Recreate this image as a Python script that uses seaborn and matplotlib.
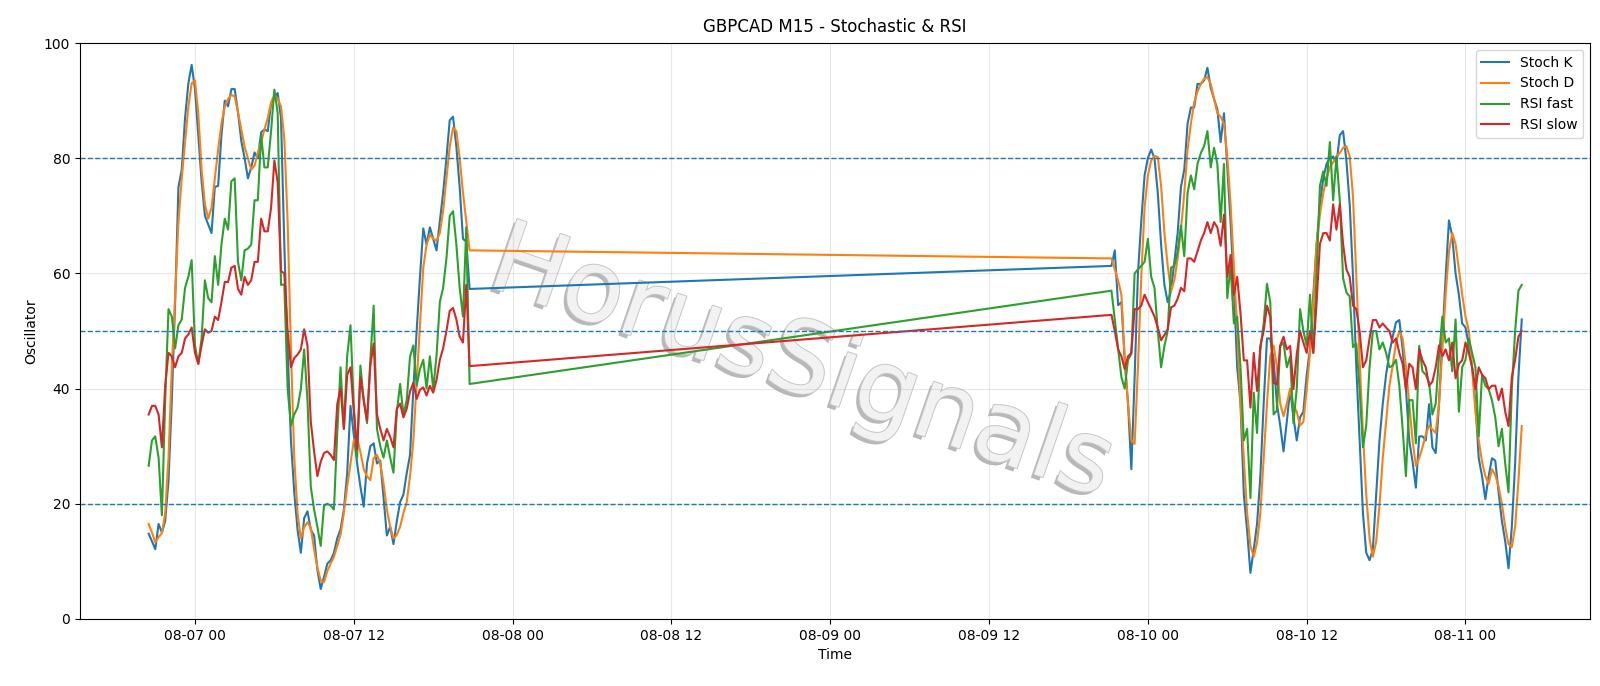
import matplotlib
matplotlib.use("Agg")
import matplotlib.pyplot as plt
import matplotlib.dates as mdates
import matplotlib.patheffects as pe
import numpy as np
import pandas as pd
import seaborn as sns

# ---------------- data ----------------
seg1_start = "2020-08-06 20:30"
seg2_start = "2020-08-09 21:15"

stoch_k_1 = [14.8, 13.5, 12.1, 16.5, 15.0, 17.0, 24.0, 38.0, 55.0, 75.0,
             78.0, 87.0, 93.0, 96.2, 92.0, 84.0, 76.0, 70.0, 68.5, 67.0,
             75.0, 75.2, 84.0, 90.0, 89.0, 92.0, 92.0, 88.0, 83.0, 80.0,
             76.5, 78.4, 81.0, 80.0, 84.5, 85.0, 84.7, 89.5, 90.6, 91.3,
             87.0, 65.0, 47.0, 31.0, 22.0, 15.5, 11.5, 17.5, 18.7, 15.5,
             14.5, 8.5, 5.2, 7.3, 9.6, 10.2, 11.5, 14.0, 15.6, 19.0,
             25.3, 37.0, 32.0, 27.0, 23.0, 19.5, 27.0, 30.0, 30.5, 27.0,
             27.5, 21.0, 14.5, 16.0, 13.0, 17.0, 20.3, 21.6, 25.3, 28.5,
             40.0, 50.0, 59.4, 67.8, 65.0, 68.0, 66.0, 64.0, 69.0, 74.0,
             80.0, 86.6, 87.2, 82.0, 75.0, 66.0, 65.5, 57.3]
stoch_d_1 = [16.5, 15.0, 13.3, 14.2, 14.9, 18.4, 28.0, 43.7, 56.0, 69.0,
             76.5, 82.8, 89.0, 93.0, 93.5, 87.8, 78.0, 72.0, 69.5, 71.4,
             76.5, 81.5, 86.0, 89.0, 90.3, 91.0, 90.7, 88.0, 85.0, 82.0,
             80.0, 78.0, 78.7, 81.0, 82.8, 85.0, 87.0, 89.7, 91.0, 90.3,
             89.0, 83.4, 69.0, 47.0, 28.0, 18.4, 14.0, 15.9, 16.8, 15.9,
             12.1, 8.9, 6.7, 6.4, 8.3, 9.6, 10.8, 12.7, 14.6, 18.4,
             23.0, 27.0, 31.0, 31.5, 29.0, 26.0, 24.8, 24.1, 27.9, 28.5,
             27.0, 23.5, 19.0, 16.0, 14.0, 14.6, 16.0, 18.4, 20.3, 24.8,
             31.0, 41.0, 51.0, 61.0, 65.0, 66.7, 66.0, 65.7, 67.0, 70.8,
             76.5, 82.0, 85.3, 84.7, 80.0, 74.0, 69.0, 64.0]
rsi_fast_1 = [26.6, 31.0, 31.7, 28.0, 18.0, 38.0, 53.8, 52.5, 47.0, 51.0,
              52.0, 57.5, 59.4, 62.3, 47.5, 44.3, 48.7, 58.8, 55.7, 55.0,
              63.0, 58.0, 65.0, 69.5, 67.6, 76.0, 76.5, 62.0, 58.8, 64.0,
              64.3, 65.0, 72.7, 72.7, 84.0, 78.4, 78.4, 84.7, 91.9, 87.8,
              58.0, 58.1, 40.0, 33.6, 35.5, 36.7, 39.9, 46.8, 38.0, 23.0,
              19.0, 16.0, 12.7, 19.7, 20.0, 19.7, 19.0, 32.3, 43.7, 33.0,
              45.6, 51.0, 37.0, 28.0, 44.0, 38.0, 34.0, 45.0, 54.4, 33.0,
              30.0, 28.0, 31.0, 28.0, 25.4, 36.0, 40.8, 35.5, 38.0, 45.6,
              47.5, 40.5, 43.4, 45.0, 40.0, 45.6, 40.0, 45.6, 55.0, 57.5,
              62.6, 70.0, 70.8, 65.0, 57.5, 52.5, 68.0, 40.8]
rsi_slow_1 = [35.5, 37.0, 37.0, 35.5, 29.8, 40.5, 46.2, 45.6, 43.7, 45.6,
              46.2, 48.7, 49.4, 50.6, 46.2, 44.3, 47.5, 50.3, 49.7, 50.0,
              52.5, 51.9, 55.0, 58.5, 58.5, 61.0, 61.3, 57.3, 56.3, 59.4,
              58.0, 58.8, 62.0, 62.0, 69.5, 67.3, 67.3, 71.4, 79.6, 75.8,
              60.4, 60.0, 50.0, 43.7, 45.3, 45.9, 46.8, 50.3, 47.5, 34.3,
              29.1, 24.8, 27.3, 28.8, 29.1, 28.5, 27.6, 37.3, 40.0, 33.0,
              42.4, 43.7, 36.0, 29.5, 42.0, 38.0, 34.5, 44.0, 47.8, 35.5,
              33.0, 31.0, 33.0, 31.6, 29.8, 36.5, 37.4, 35.0, 36.5, 39.5,
              41.0, 38.2, 39.8, 40.2, 38.8, 40.5, 39.3, 41.5, 45.0, 47.0,
              50.0, 53.5, 54.0, 52.0, 49.0, 48.0, 58.0, 43.9]

stoch_k_2 = [61.3, 64.0, 54.5, 55.0, 45.0, 37.4, 26.0, 42.0, 60.0, 69.0,
             77.0, 80.0, 81.5, 80.0, 74.0, 65.0, 58.0, 55.0, 57.0, 62.0,
             67.0, 75.0, 78.0, 86.0, 88.8, 88.8, 92.9, 92.9, 93.5, 95.7,
             92.2, 90.3, 88.5, 82.8, 87.8, 78.4, 68.9, 57.5, 43.7, 37.4,
             21.6, 15.3, 8.0, 12.1, 16.5, 24.8, 37.4, 48.7, 48.7, 45.0,
             37.4, 33.6, 29.1, 34.3, 39.9, 35.0, 31.0, 35.0, 36.0, 42.4,
             46.8, 56.3, 65.1, 72.0, 76.5, 79.0, 80.0, 80.3, 79.0, 84.0,
             84.7, 79.6, 72.0, 59.4, 43.7, 31.0, 18.4, 11.5, 10.2, 12.1,
             21.6, 31.0, 37.4, 42.4, 46.2, 49.0, 51.5, 51.9, 46.8, 39.9,
             31.0, 27.3, 22.8, 31.7, 31.7, 31.0, 37.3, 29.8, 28.8, 37.4,
             48.7, 59.4, 69.2, 66.4, 60.0, 56.3, 51.3, 50.6, 47.5, 43.7,
             37.4, 27.9, 24.8, 20.8, 24.8, 27.9, 27.5, 22.0, 17.0, 13.5,
             8.8, 16.0, 27.0, 42.0, 52.0]
stoch_d_2 = [62.6, 60.7, 58.8, 56.3, 45.0, 37.4, 31.0, 30.4, 43.7, 59.4,
             71.4, 77.0, 79.6, 80.4, 80.2, 75.2, 67.0, 61.3, 56.9, 58.8,
             62.6, 67.6, 73.9, 81.5, 86.0, 89.7, 91.6, 92.9, 93.8, 94.1,
             92.9, 90.3, 87.8, 87.2, 86.0, 80.3, 72.0, 61.3, 50.0, 37.4,
             28.0, 18.4, 12.7, 10.8, 13.3, 18.4, 28.0, 37.4, 45.6, 47.5,
             43.7, 37.4, 35.2, 37.4, 40.0, 37.0, 36.0, 33.6, 34.2, 39.9,
             46.2, 55.0, 65.1, 70.2, 73.9, 76.5, 78.4, 79.3, 80.3, 80.9,
             81.8, 82.1, 80.3, 73.3, 59.4, 45.0, 32.3, 21.6, 14.0, 10.8,
             13.4, 19.7, 28.0, 34.2, 40.5, 44.0, 48.0, 50.0, 48.7, 43.7,
             37.4, 31.0, 26.6, 27.9, 29.8, 32.0, 33.6, 32.9, 32.3, 37.4,
             46.8, 56.3, 63.8, 67.0, 65.1, 60.7, 56.3, 52.5, 50.0, 43.7,
             36.0, 31.0, 27.3, 24.8, 23.5, 26.0, 25.0, 23.0, 20.0, 16.0,
             13.0, 12.5, 16.0, 24.0, 33.5]
rsi_fast_2 = [57.0, 52.0, 47.0, 42.0, 40.0, 45.0, 46.0, 60.0, 60.7, 61.3,
              62.0, 66.0, 59.4, 57.5, 50.0, 43.7, 47.4, 50.0, 61.0, 61.3,
              63.8, 68.3, 63.0, 74.0, 77.0, 74.6, 79.0, 80.9, 82.1, 84.7,
              78.4, 81.8, 79.0, 68.9, 79.0, 55.7, 61.3, 51.3, 52.5, 43.7,
              31.0, 33.0, 21.0, 39.3, 32.3, 46.8, 51.3, 58.2, 55.0, 35.5,
              36.2, 47.4, 48.0, 43.7, 45.6, 34.0, 40.0, 53.8, 50.0, 47.5,
              56.3, 46.2, 60.0, 75.2, 77.7, 75.2, 82.8, 72.7, 80.3, 72.7,
              59.2, 56.7, 56.0, 47.2, 47.8, 39.9, 29.8, 33.6, 43.7, 50.0,
              50.0, 46.8, 48.0, 46.2, 43.7, 44.0, 45.0, 40.5, 33.0, 24.8,
              38.0, 38.0, 30.5, 47.4, 43.0, 42.4, 41.0, 35.5, 37.4, 45.6,
              52.5, 48.0, 48.7, 43.0, 52.0, 36.0, 43.7, 45.0, 48.7, 46.2,
              43.7, 31.7, 42.4, 40.5, 39.9, 38.0, 35.0, 30.0, 33.0, 27.0,
              22.0, 40.0, 50.0, 57.0, 58.0]
rsi_slow_2 = [52.8, 50.0, 46.8, 45.6, 43.4, 45.6, 46.2, 53.8, 53.8, 54.4,
              56.3, 55.0, 53.8, 52.5, 50.6, 48.4, 49.3, 50.3, 54.1, 54.4,
              55.6, 57.5, 56.9, 62.6, 62.6, 62.0, 63.8, 65.7, 67.0, 68.9,
              67.0, 68.9, 68.0, 64.8, 70.2, 59.4, 63.2, 56.3, 59.4, 53.1,
              44.9, 44.9, 36.7, 46.2, 39.6, 47.5, 50.0, 54.4, 52.5, 41.0,
              40.7, 47.5, 49.0, 46.8, 47.4, 39.9, 46.0, 50.0, 48.0, 46.2,
              50.0, 46.2, 55.0, 65.1, 67.0, 67.0, 65.7, 72.0, 67.6, 72.0,
              65.1, 60.7, 59.4, 54.4, 53.8, 50.0, 43.7, 44.9, 48.7, 51.9,
              51.9, 50.6, 51.3, 50.6, 50.0, 48.0, 48.7, 46.2, 44.3, 39.9,
              44.3, 43.7, 39.9, 46.8, 44.9, 43.7, 40.5, 41.2, 43.7, 47.5,
              45.6, 46.8, 44.9, 48.0, 41.8, 44.3, 44.9, 48.0, 46.2, 43.7,
              39.9, 43.7, 42.4, 41.8, 39.9, 40.5, 40.5, 38.0, 40.0, 36.0,
              33.5, 42.0, 45.0, 49.0, 50.0]

series_names = ["Stoch K", "Stoch D", "RSI fast", "RSI slow"]
series_colors = ["#1f77b4", "#ff7f0e", "#2ca02c", "#d62728"]
levels = [20, 50, 80]

# ---------------- build frame ----------------
t1 = pd.date_range(seg1_start, periods=len(stoch_k_1), freq="15min")
t2 = pd.date_range(seg2_start, periods=len(stoch_k_2), freq="15min")
times = t1.append(t2)
df = pd.DataFrame({
    "Time": times,
    "Stoch K": stoch_k_1 + stoch_k_2,
    "Stoch D": stoch_d_1 + stoch_d_2,
    "RSI fast": rsi_fast_1 + rsi_fast_2,
    "RSI slow": rsi_slow_1 + rsi_slow_2,
})

# ---------------- plot ----------------
fig = plt.figure(figsize=(16, 6.86), dpi=100)
ax = fig.add_axes([0.05, 0.0977, 0.944, 0.8396])

for name, col in zip(series_names, series_colors):
    sns.lineplot(data=df, x="Time", y=name, ax=ax, color=col, label=name,
                 linewidth=1.5, estimator=None)

for lv in levels:
    ax.axhline(lv, color="#1f77b4", linestyle="--", linewidth=1)

ax.set_ylim(0, 100)
ax.set_yticks([0, 20, 40, 60, 80, 100])
ax.xaxis.set_major_locator(mdates.HourLocator(byhour=[0, 12]))
ax.xaxis.set_major_formatter(mdates.DateFormatter("%m-%d %H"))
ax.grid(True, alpha=0.3)
ax.set_title("GBPCAD M15 - Stochastic & RSI", fontsize=12, pad=8)
ax.set_xlabel("Time")
ax.set_ylabel("Oscillator")
ax.legend(loc="upper right")

ax.text(0.501, 0.468, "HorusSignals", transform=fig.transFigure,
        rotation=-19, fontsize=72, color="#f2f2f2", ha="center", va="center",
        fontweight="normal", zorder=0.6,
        path_effects=[pe.withSimplePatchShadow(offset=(-2.5, -2.5), shadow_rgbFace="#a0a0a0", alpha=0.75),
                      pe.withStroke(linewidth=1.4, foreground="#c6c6c6")])

fig.savefig("out.png", dpi=100)
